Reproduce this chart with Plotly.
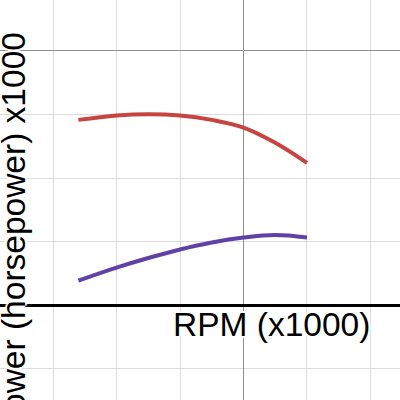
import plotly.graph_objects as go

# Data (RPM x1000 vs power, horsepower x1000)
rpm = [1.4, 2.0, 2.5, 3.0, 3.5, 4.0, 4.5, 5.0]
power_red = [2.915, 2.985, 3.005, 2.985, 2.915, 2.795, 2.555, 2.237]
power_purple = [0.384, 0.589, 0.740, 0.875, 0.985, 1.063, 1.102, 1.063]

x_label = "RPM (x1000)"
y_label = "Power (horsepower) x1000"

fig = go.Figure()
fig.add_trace(go.Scatter(x=rpm, y=power_red, mode="lines",
                         line=dict(color="#c74440", width=4, shape="spline", smoothing=1.1),
                         hoverinfo="skip"))
fig.add_trace(go.Scatter(x=rpm, y=power_purple, mode="lines",
                         line=dict(color="#6042a6", width=4, shape="spline", smoothing=1.1),
                         hoverinfo="skip"))

minor_col = "#dcdcdc"
major_col = "#8f8f8f"
fig.update_xaxes(range=[0.165, 6.465], showticklabels=False, ticks="",
                 tick0=0, dtick=4, showgrid=True, gridcolor=major_col, gridwidth=1.3,
                 minor=dict(dtick=1, tick0=0, showgrid=True, gridcolor=minor_col, gridwidth=1.2),
                 zeroline=True, zerolinecolor="black", zerolinewidth=2.5,
                 showline=False, fixedrange=True)
fig.update_yaxes(range=[-1.496, 4.803], showticklabels=False, ticks="",
                 tick0=0, dtick=4, showgrid=True, gridcolor=major_col, gridwidth=1.3,
                 minor=dict(dtick=1, tick0=0, showgrid=True, gridcolor=minor_col, gridwidth=1.2),
                 zeroline=True, zerolinecolor="black", zerolinewidth=2.5,
                 showline=False, fixedrange=True)

halo = "white 2px 0px 1px, white -2px 0px 1px, white 0px 2px 1px, white 0px -2px 1px"
font = dict(family="Liberation Sans, Arial, sans-serif", size=33.5, color="black", shadow=halo)

fig.add_annotation(text=x_label, xref="paper", yref="paper",
                   x=271 / 400, y=1 - 324.7 / 400, xanchor="center", yanchor="middle",
                   showarrow=False, font=font)
fig.add_annotation(text=y_label, xref="paper", yref="paper",
                   x=13.3 / 400, y=1 - 233 / 400, xanchor="center", yanchor="middle",
                   textangle=-90, showarrow=False, font=font)

fig.update_layout(width=400, height=400, margin=dict(l=0, r=0, t=0, b=0),
                  paper_bgcolor="white", plot_bgcolor="white", showlegend=False)

fig.write_html("out.html", config={"displayModeBar": False},
               post_script="document.body.style.margin='0';document.body.style.overflow='hidden';")
